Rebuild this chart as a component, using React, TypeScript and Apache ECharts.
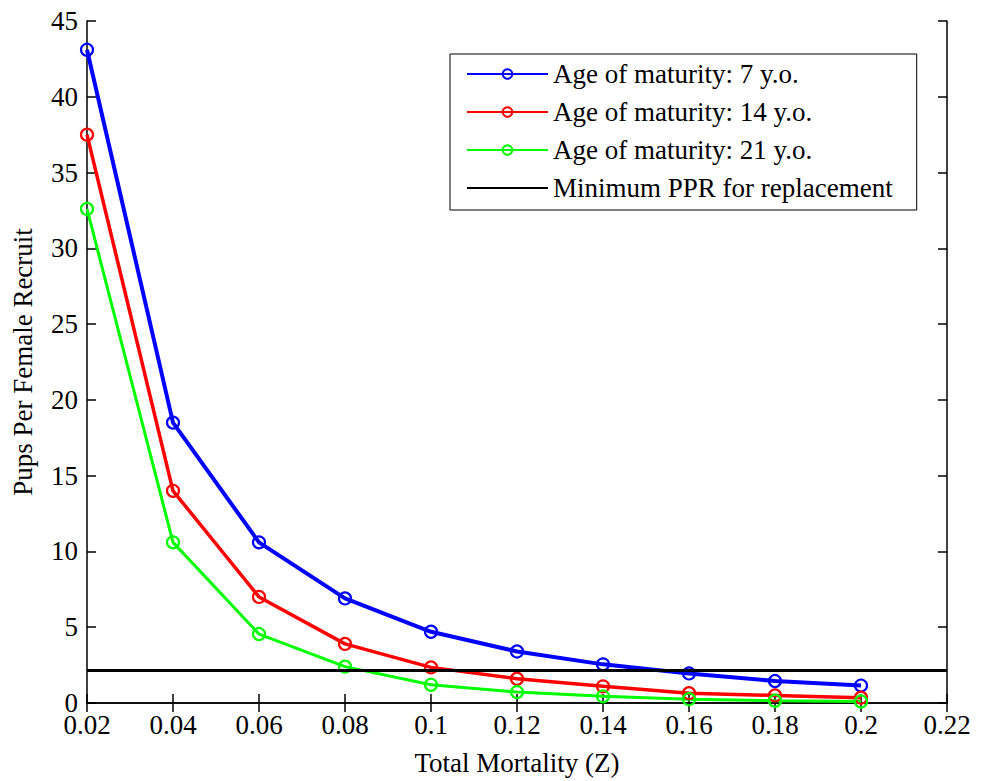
import React, { useEffect, useRef } from "react";
import * as echarts from "echarts";

const mortality = [0.02, 0.04, 0.06, 0.08, 0.1, 0.12, 0.14, 0.16, 0.18, 0.2];
const age7 = [43.1, 18.5, 10.6, 6.9, 4.7, 3.4, 2.55, 1.95, 1.45, 1.15];
const age14 = [37.5, 14.0, 7.0, 3.9, 2.35, 1.6, 1.1, 0.65, 0.5, 0.35];
const age21 = [32.6, 10.6, 4.55, 2.4, 1.2, 0.72, 0.44, 0.25, 0.15, 0.1];
const replacementPPR = 2.15;
const replacementRange = [0.02, 0.22];
const seriesNames = [
  "Age of maturity: 7 y.o.",
  "Age of maturity: 14 y.o.",
  "Age of maturity: 21 y.o.",
  "Minimum PPR for replacement",
];

const FONT = "Liberation Serif";
const FS = 27;

export default function App() {
  const ref = useRef<HTMLDivElement>(null);
  useEffect(() => {
    if (!ref.current) return;
    const chart = echarts.init(ref.current, undefined, { renderer: "svg" });
    const fmt = (v: number) => String(parseFloat(v.toFixed(2)));
    const axisLine = { show: true, lineStyle: { color: "#000", width: 1.5 } };
    const tick = { show: true, inside: true, length: 9, lineStyle: { color: "#000", width: 1.5 } };
    const mk = (name: string, ys: number[], color: string, width: number) => ({
      name,
      type: "line",
      data: mortality.map((x, i) => [x, ys[i]]),
      symbol: "circle",
      symbolSize: 12,
      showSymbol: true,
      lineStyle: { color, width },
      itemStyle: { color: "rgba(255,255,255,0)", borderColor: color, borderWidth: 2.2 },
      z: 3,
    });
    chart.setOption({
      animation: false,
      backgroundColor: "#fff",
      textStyle: { fontFamily: FONT },
      grid: { left: 87, right: 36, top: 21, bottom: 76 },
      legend: {
        orient: "vertical",
        left: 450,
        top: 54,
        padding: [6, 24, 8, 16],
        itemGap: 10,
        itemWidth: 81,
        itemHeight: 12,
        borderColor: "#000",
        borderWidth: 1,
        backgroundColor: "#fff",
        textStyle: { fontFamily: FONT, fontSize: FS, color: "#000", lineHeight: 28 },
        data: seriesNames,
      },
      xAxis: [
        {
          type: "value",
          min: 0.02,
          max: 0.22,
          interval: 0.02,
          name: "Total Mortality (Z)",
          nameLocation: "middle",
          nameGap: 46,
          nameTextStyle: { fontFamily: FONT, fontSize: FS, color: "#000" },
          axisLine,
          axisTick: tick,
          splitLine: { show: false },
          axisLabel: { fontFamily: FONT, fontSize: FS, color: "#000", margin: 11, lineHeight: 22, formatter: fmt },
        },
        {
          type: "value",
          position: "top",
          min: 0.02,
          max: 0.22,
          interval: 0.02,
          axisLine,
          axisTick: tick,
          splitLine: { show: false },
          axisLabel: { show: false },
        },
      ],
      yAxis: [
        {
          type: "value",
          min: 0,
          max: 45,
          interval: 5,
          name: "Pups Per Female Recruit",
          nameLocation: "middle",
          nameGap: 51,
          nameTextStyle: { fontFamily: FONT, fontSize: FS, color: "#000" },
          axisLine,
          axisTick: tick,
          splitLine: { show: false },
          axisLabel: { fontFamily: FONT, fontSize: FS, color: "#000", margin: 9, lineHeight: 20 },
        },
        {
          type: "value",
          position: "right",
          min: 0,
          max: 45,
          interval: 5,
          axisLine,
          axisTick: tick,
          splitLine: { show: false },
          axisLabel: { show: false },
        },
      ],
      series: [
        mk(seriesNames[0], age7, "#0000ff", 4),
        mk(seriesNames[1], age14, "#ff0000", 3.5),
        mk(seriesNames[2], age21, "#00ff00", 3),
        {
          name: seriesNames[3],
          type: "line",
          data: replacementRange.map((x) => [x, replacementPPR]),
          symbol: "none",
          lineStyle: { color: "#000", width: 3 },
          itemStyle: { color: "rgba(0,0,0,0)" },
          z: 4,
        },
      ],
    });
    return () => chart.dispose();
  }, []);
  return (
    <div
      ref={ref}
      style={{ position: "fixed", left: 0, top: 0, width: 983, height: 781 }}
    />
  );
}
